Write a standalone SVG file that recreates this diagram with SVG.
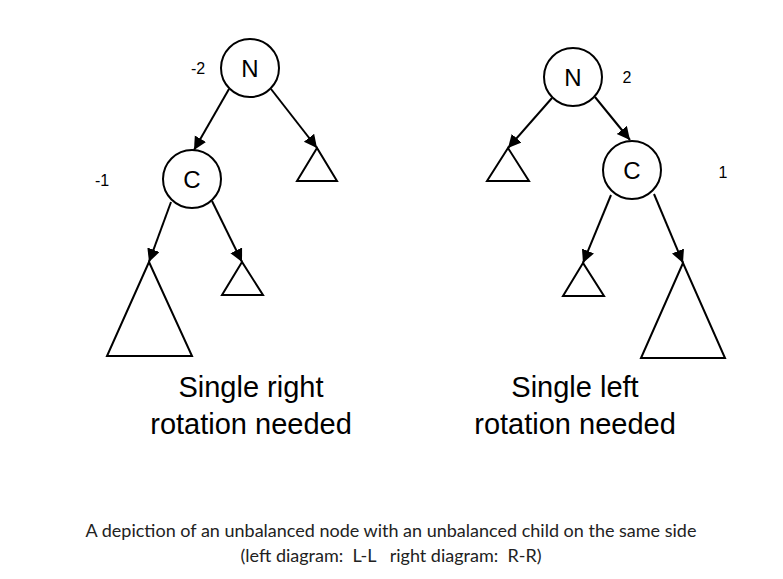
<svg xmlns="http://www.w3.org/2000/svg" width="783" height="579" viewBox="0 0 783 579">
<style>
.node circle{fill:#fff;stroke:#000;stroke-width:2}
.node text{font-family:"Liberation Sans",Arial,sans-serif;font-size:24px;fill:#000;text-anchor:middle}
.tri{fill:#fff;stroke:#000;stroke-width:2;stroke-linejoin:miter}
.bf{font-family:"Liberation Sans",Arial,sans-serif;font-size:16px;fill:#000;text-anchor:middle}
.edge{stroke:#000;stroke-width:2;fill:none;marker-end:url(#ah)}
.title{font-family:"Liberation Sans",Arial,sans-serif;font-size:29px;fill:#000;text-anchor:middle}
.cap{font-family:Lato,"Open Sans",sans-serif;font-size:18px;fill:#222;text-anchor:middle}
</style>
<defs>
<marker id="ah" markerUnits="userSpaceOnUse" markerWidth="14" markerHeight="14" refX="13" refY="6.5" orient="auto">
<path d="M0,0 L13,6.5 L0,13 z" fill="#000"/>
</marker>
</defs>
<rect width="783" height="579" fill="#fff"/>
<g id="connectors">
<line class="edge" x1="271" y1="89" x2="317" y2="148"/>
<line class="edge" x1="229" y1="89" x2="194" y2="150"/>
<line class="edge" x1="171" y1="202" x2="149" y2="262"/>
<line class="edge" x1="212" y1="201" x2="242" y2="262"/>
<line class="edge" x1="552" y1="98" x2="508" y2="148"/>
<line class="edge" x1="595" y1="97" x2="630" y2="140"/>
<line class="edge" x1="611" y1="195" x2="583" y2="263"/>
<line class="edge" x1="654" y1="194" x2="683" y2="263"/>
</g>
<g id="left-N" class="node"><circle cx="250" cy="68" r="29"/><text x="250" y="76.5">N</text></g>
<g id="left-C" class="node"><circle cx="192" cy="179" r="29"/><text x="192" y="187.5">C</text></g>
<g id="left-T1"><polygon class="tri" points="317,148 297,181 337,181"/></g>
<g id="left-T2"><polygon class="tri" points="149,262 107,356 192,356"/></g>
<g id="left-T3"><polygon class="tri" points="242,262 222,295 263,295"/></g>
<g id="right-N" class="node"><circle cx="573" cy="77" r="29"/><text x="573" y="85.5">N</text></g>
<g id="right-C" class="node"><circle cx="632" cy="170" r="29"/><text x="632" y="178.5">C</text></g>
<g id="right-T1"><polygon class="tri" points="508,148 487,181 529,181"/></g>
<g id="right-T2"><polygon class="tri" points="583,263 563,296 604,296"/></g>
<g id="right-T3"><polygon class="tri" points="683,263 641,358 725,358"/></g>
<g id="labels">
<text class="bf" x="198" y="73.5">-2</text>
<text class="bf" x="102" y="185.5">-1</text>
<text class="bf" x="627" y="82.5">2</text>
<text class="bf" x="723" y="177.5">1</text>
<text class="title" x="251" y="397">Single right</text>
<text class="title" x="251" y="434">rotation needed</text>
<text class="title" x="575" y="397">Single left</text>
<text class="title" x="575" y="434">rotation needed</text>
<text class="cap" x="391" y="537">A depiction of an unbalanced node with an unbalanced child on the same side</text>
<text class="cap" x="391" y="562" xml:space="preserve">(left diagram:  L-L   right diagram:  R-R)</text>
</g>
</svg>
